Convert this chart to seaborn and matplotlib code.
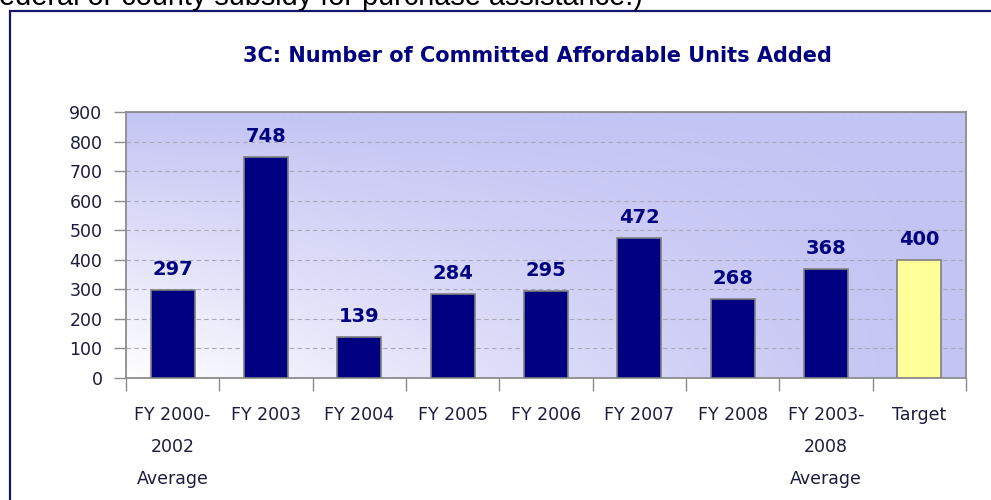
import numpy as np
import pandas as pd
import matplotlib
matplotlib.use("Agg")
import matplotlib.pyplot as plt
import seaborn as sns
from matplotlib.patches import Rectangle

categories = ["FY 2000-\n2002\nAverage", "FY 2003", "FY 2004", "FY 2005", "FY 2006",
              "FY 2007", "FY 2008", "FY 2003-\n2008\nAverage", "Target"]
units = [297, 748, 139, 284, 295, 472, 268, 368, 400]
bar_colors = ["#000080"] * 8 + ["#ffff99"]
y_ticks = [0, 100, 200, 300, 400, 500, 600, 700, 800, 900]

title = "3C: Number of Committed Affordable Units Added"
note = "ederal or county subsidy for purchase assistance.)"

navy = "#000080"
text_dark = "#1c1c3c"

sns.set_theme(style="white")
plt.rcParams["font.family"] = ["DejaVu Sans"]

fig = plt.figure(figsize=(9.91, 5.0), dpi=100)
fig.patch.set_facecolor("white")

# running text from the page above the chart, cut by the top edge
fig.text(-0.001, 1 - 5 / 500, note, fontsize=20.8, color="black", ha="left",
         va="baseline", family="Liberation Sans")
# chart frame
fig.add_artist(Rectangle((9.5 / 991, -0.05), 1.2, 1.05 - 11.5 / 500,
                         transform=fig.transFigure, fill=False,
                         edgecolor="#14146e", linewidth=1.6))

ax = fig.add_axes([126 / 991, 1 - 378 / 500, (966 - 126) / 991, (378 - 112) / 500])

df = pd.DataFrame({"category": categories, "units": units})

# gradient backdrop: lavender at top/right fading to white at bottom-left
ny, nx = 200, 300
yy, xx = np.mgrid[0:1:ny * 1j, 0:1:nx * 1j]
t = 1 - (1 - yy) * (1 - xx) ** 1.3
t = np.clip(t, 0, 1)
white = np.array([1.0, 1.0, 1.0])
lav = np.array([196, 196, 244]) / 255
img = white[None, None, :] * (1 - t[..., None]) + lav[None, None, :] * t[..., None]
ax.imshow(img, extent=(-0.5, len(categories) - 0.5, 0, 900), origin="lower",
          aspect="auto", zorder=0, interpolation="bilinear")

sns.barplot(data=df, x="category", y="units", hue="category", palette=bar_colors,
            legend=False, width=0.47, edgecolor="#808080", linewidth=1.2,
            saturation=1, ax=ax, zorder=3)

ax.set_xlim(-0.5, len(categories) - 0.5)
ax.set_ylim(0, 900)
ax.set_yticks(y_ticks)
ax.set_yticklabels([str(v) for v in y_ticks], fontsize=12.5, color=text_dark)
ax.yaxis.grid(True, linestyle=(0, (4, 3)), color="#a8a8b8", linewidth=0.8, zorder=1)
ax.set_axisbelow(True)

for s in ["left", "right", "top", "bottom"]:
    ax.spines[s].set_color("#8c8c8c")
    ax.spines[s].set_linewidth(1.3)

ax.tick_params(axis="y", which="major", direction="out", length=9, width=1,
               color="#8c8c8c", pad=8, left=True)

# category labels centred on bars, tick marks between categories
ax.set_xticks(range(len(categories)))
ax.set_xticklabels(categories, fontsize=12.5, color=text_dark, linespacing=2.0,
                   va="top")
ax.tick_params(axis="x", which="major", length=0, pad=20)
ax.set_xticks(np.arange(-0.5, len(categories), 1.0), minor=True)
ax.tick_params(axis="x", which="minor", direction="out", length=9, width=1,
               color="#8c8c8c", bottom=True)
ax.set_xlabel("")
ax.set_ylabel("")

for i, v in enumerate(units):
    ax.annotate(str(v), (i, v), xytext=(0, 8), textcoords="offset points",
                ha="center", va="bottom", fontsize=14, fontweight="bold",
                color=navy, zorder=5)

fig.text(537 / 991, 1 - 56 / 500, title, fontsize=15, fontweight="bold",
         color=navy, ha="center", va="center")

fig.savefig("out.png", dpi=100, facecolor="white")
